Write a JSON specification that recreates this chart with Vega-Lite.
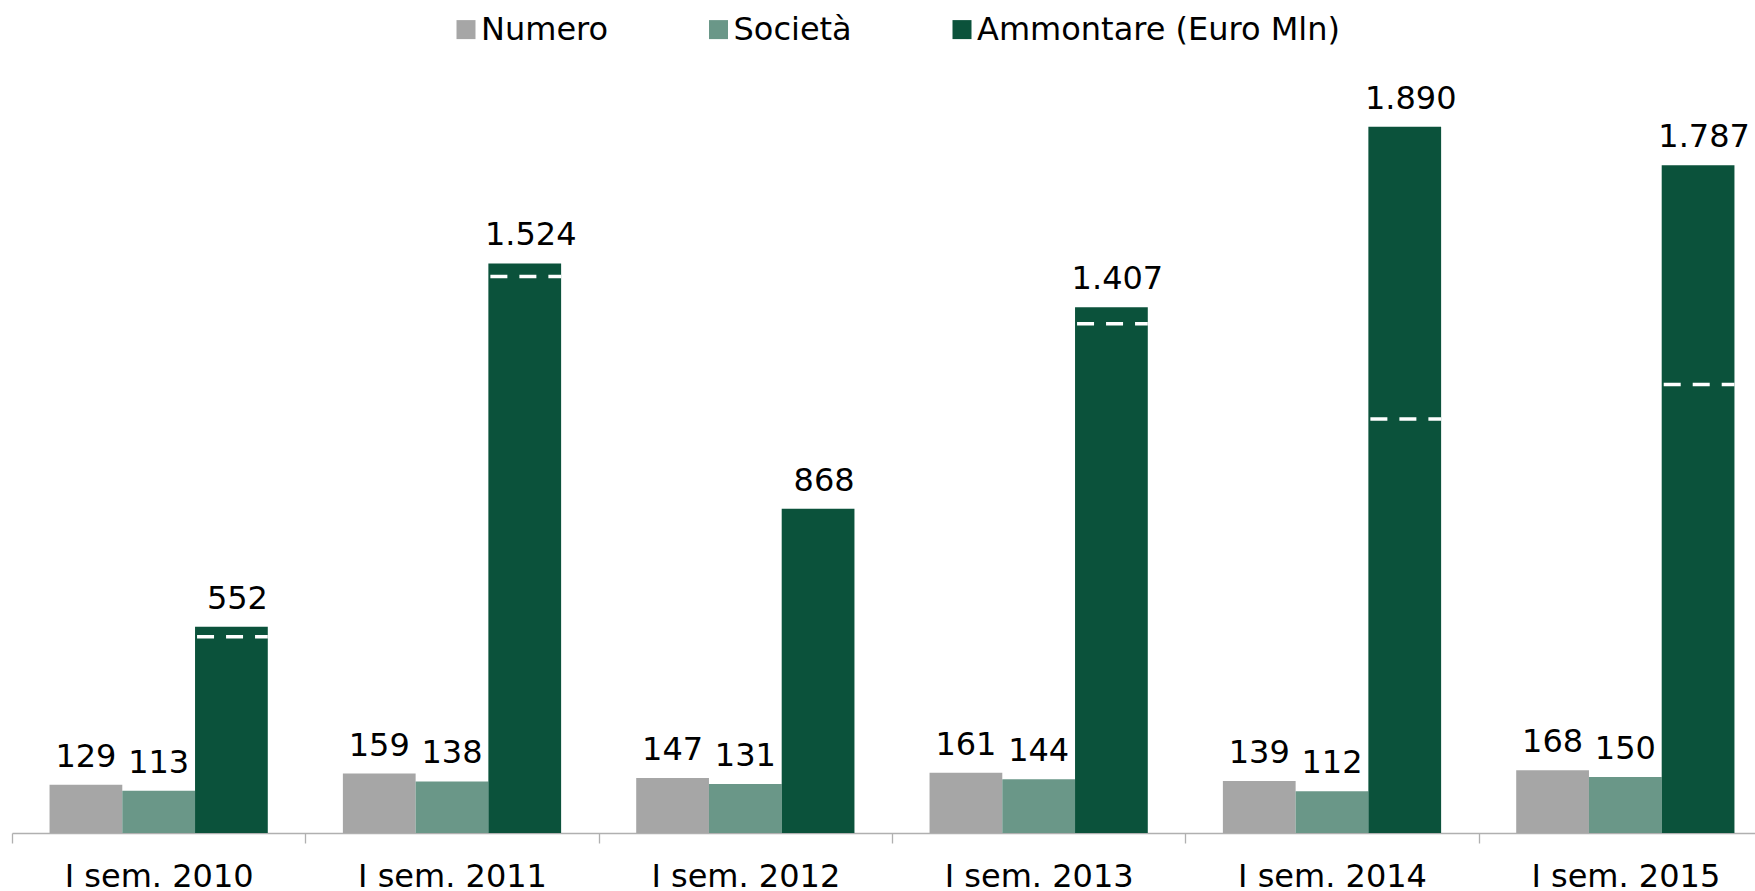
{
  "$schema": "https://vega.github.io/schema/vega-lite/v6.json",
  "width": 1743,
  "height": 747.4,
  "autosize": {"type": "none"},
  "padding": {"left": 12, "top": 85.6, "right": 0, "bottom": 58},
  "background": "white",
  "config": {
    "view": {"stroke": null},
    "font": "DejaVu Sans",
    "locale": {"number": {"decimal": ",", "thousands": ".", "grouping": [3], "currency": ["€", ""]}}
  },
  "datasets": {
    "bars": [
      {"periodo": "I sem. 2010", "serie": "Numero", "valore": 129},
      {"periodo": "I sem. 2010", "serie": "Società", "valore": 113},
      {"periodo": "I sem. 2010", "serie": "Ammontare (Euro Mln)", "valore": 552},
      {"periodo": "I sem. 2011", "serie": "Numero", "valore": 159},
      {"periodo": "I sem. 2011", "serie": "Società", "valore": 138},
      {"periodo": "I sem. 2011", "serie": "Ammontare (Euro Mln)", "valore": 1524},
      {"periodo": "I sem. 2012", "serie": "Numero", "valore": 147},
      {"periodo": "I sem. 2012", "serie": "Società", "valore": 131},
      {"periodo": "I sem. 2012", "serie": "Ammontare (Euro Mln)", "valore": 868},
      {"periodo": "I sem. 2013", "serie": "Numero", "valore": 161},
      {"periodo": "I sem. 2013", "serie": "Società", "valore": 144},
      {"periodo": "I sem. 2013", "serie": "Ammontare (Euro Mln)", "valore": 1407},
      {"periodo": "I sem. 2014", "serie": "Numero", "valore": 139},
      {"periodo": "I sem. 2014", "serie": "Società", "valore": 112},
      {"periodo": "I sem. 2014", "serie": "Ammontare (Euro Mln)", "valore": 1890},
      {"periodo": "I sem. 2015", "serie": "Numero", "valore": 168},
      {"periodo": "I sem. 2015", "serie": "Società", "valore": 150},
      {"periodo": "I sem. 2015", "serie": "Ammontare (Euro Mln)", "valore": 1787}
    ],
    "quote": [
      {"periodo": "I sem. 2010", "quota": 525},
      {"periodo": "I sem. 2011", "quota": 1489},
      {"periodo": "I sem. 2013", "quota": 1363},
      {"periodo": "I sem. 2014", "quota": 1108},
      {"periodo": "I sem. 2015", "quota": 1200}
    ]
  },
  "layer": [
    {
      "data": {"name": "bars"},
      "mark": {"type": "bar"},
      "encoding": {
        "x": {
          "field": "periodo", "type": "nominal", "sort": null, "title": null,
          "scale": {"range": [0, 1760], "paddingInner": 0.256, "paddingOuter": 0.128},
          "axis": {
            "title": null, "grid": false, "labelAngle": 0,
            "domainColor": "#B0B0B0", "domainWidth": 1.3,
            "tickColor": "#B0B0B0", "tickWidth": 1.3, "tickSize": 10,
            "tickOffset": -146.67, "labelOffset": 146.67,
            "labelFontSize": 32, "labelFont": "DejaVu Sans", "labelColor": "black", "labelPadding": 18,
            "labelLimit": 2000
          }
        },
        "xOffset": {
          "field": "serie", "type": "nominal",
          "sort": ["Numero", "Società", "Ammontare (Euro Mln)"],
          "scale": {"paddingInner": 0, "paddingOuter": 0}
        },
        "y": {"field": "valore", "type": "quantitative", "scale": {"domain": [0, 2000], "nice": false}, "axis": null},
        "color": {
          "field": "serie", "type": "nominal",
          "sort": ["Numero", "Società", "Ammontare (Euro Mln)"],
          "scale": {"domain": ["Numero", "Società", "Ammontare (Euro Mln)"], "range": ["#A6A6A6", "#6A9788", "#0B523B"]},
          "legend": {
            "title": null, "orient": "none", "legendX": 438, "legendY": -72,
            "direction": "horizontal", "symbolType": "square", "symbolSize": 361, "symbolStrokeWidth": 0,
            "labelFontSize": 32, "labelFont": "DejaVu Sans", "labelColor": "black",
            "labelOffset": -1, "columnPadding": 93.5, "padding": 0, "labelLimit": 1000
          }
        }
      }
    },
    {
      "data": {"name": "bars"},
      "transform": [{"filter": "datum.serie !== 'Ammontare (Euro Mln)'"}],
      "mark": {"type": "text", "baseline": "alphabetic", "dy": -18, "fontSize": 32, "color": "black", "font": "DejaVu Sans"},
      "encoding": {
        "x": {"field": "periodo", "type": "nominal", "sort": null},
        "xOffset": {"field": "serie", "type": "nominal", "sort": ["Numero", "Società", "Ammontare (Euro Mln)"]},
        "y": {"field": "valore", "type": "quantitative"},
        "text": {"field": "valore", "type": "quantitative", "format": ",d"}
      }
    },
    {
      "data": {"name": "bars"},
      "transform": [{"filter": "datum.serie === 'Ammontare (Euro Mln)'"}],
      "mark": {"type": "text", "baseline": "alphabetic", "dy": -18, "dx": 6, "fontSize": 32, "color": "black", "font": "DejaVu Sans"},
      "encoding": {
        "x": {"field": "periodo", "type": "nominal", "sort": null},
        "xOffset": {"field": "serie", "type": "nominal", "sort": ["Numero", "Società", "Ammontare (Euro Mln)"]},
        "y": {"field": "valore", "type": "quantitative"},
        "text": {"field": "valore", "type": "quantitative", "format": ",d"}
      }
    },
    {
      "data": {"name": "quote"},
      "mark": {"type": "rule", "color": "white", "strokeWidth": 3.5, "strokeDash": [17, 12], "strokeDashOffset": 27},
      "encoding": {
        "x": {"field": "periodo", "type": "nominal", "sort": null, "bandPosition": 0.6667},
        "x2": {"field": "periodo", "bandPosition": 1},
        "y": {"field": "quota", "type": "quantitative"}
      }
    }
  ]
}
